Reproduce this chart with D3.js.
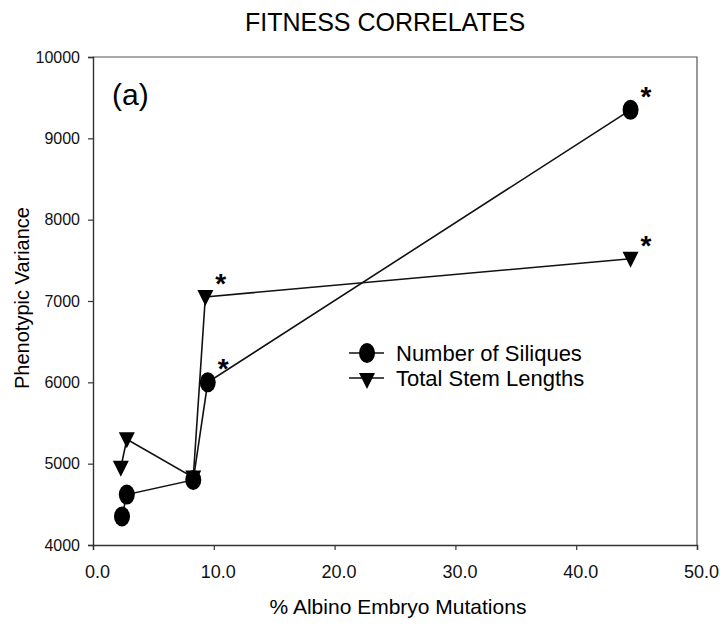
<!DOCTYPE html>
<html>
<head>
<meta charset="utf-8">
<script src="https://cdn.jsdelivr.net/npm/d3@7"></script>
<style>
  body { margin: 0; background: #fff; }
  svg { font-family: "Liberation Sans", Arial, sans-serif; }
</style>
</head>
<body>
<svg width="720" height="632"></svg>
<script>
// values
const xTicks = [0, 10, 20, 30, 40, 50];
const yTicks = [4000, 5000, 6000, 7000, 8000, 9000, 10000];

const siliquesX = [2.4, 2.8, 8.3, 9.5, 44.5];
const siliquesY = [4350, 4620, 4800, 6000, 9350];
const siliquesStar = [false, false, false, true, true];

const stemX = [2.3, 2.8, 8.3, 9.3, 44.5];
const stemY = [4950, 5300, 4830, 7050, 7520];
const stemStar = [false, false, false, true, true];

const seriesNames = ["Number of Siliques", "Total Stem Lengths"];

const svg = d3.select("svg");

const x = d3.scaleLinear().domain([0, 50]).range([93, 697]);
const y = d3.scaleLinear().domain([4000, 10000]).range([545, 57]);

// frame (top + right)
svg.append("path")
  .attr("d", `M${x(0)},${y(10000)}H${x(50)}V${y(4000)}`)
  .attr("fill", "none")
  .attr("stroke", "#555")
  .attr("stroke-width", 1.2);

const xAxis = svg.append("g")
  .attr("transform", `translate(0,${y(4000)})`)
  .call(d3.axisBottom(x).tickValues(xTicks).tickFormat(d3.format(".1f"))
    .tickSize(5).tickPadding(15));

const yAxis = svg.append("g")
  .attr("transform", `translate(${x(0)},0)`)
  .call(d3.axisLeft(y).tickValues(yTicks).tickFormat(d => d)
    .tickSize(5).tickPadding(8));

[xAxis, yAxis].forEach(g => {
  g.select(".domain").attr("stroke", "#333").attr("stroke-width", 1.4);
  g.selectAll(".tick line").attr("stroke", "#333").attr("stroke-width", 1.2);
  g.selectAll(".tick text").attr("fill", "#111")
    .attr("font-family", "Liberation Sans, Arial, sans-serif");
});
yAxis.selectAll(".tick text").attr("font-size", 16);
xAxis.selectAll(".tick text").attr("font-size", 18).attr("dx", 4);

const line = d3.line().x(d => x(d[0])).y(d => y(d[1]));

const sil = siliquesX.map((v, i) => [v, siliquesY[i], siliquesStar[i]]);
const stem = stemX.map((v, i) => [v, stemY[i], stemStar[i]]);

svg.append("path").datum(sil).attr("d", line)
  .attr("fill", "none").attr("stroke", "#111").attr("stroke-width", 1.6);
svg.append("path").datum(stem).attr("d", line)
  .attr("fill", "none").attr("stroke", "#111").attr("stroke-width", 1.6);

const tri = "M-8,-7L8,-7L0,9Z";

svg.append("g").selectAll("path").data(stem).join("path")
  .attr("transform", d => `translate(${x(d[0])},${y(d[1])})`)
  .attr("d", tri).attr("fill", "#000");

svg.append("g").selectAll("ellipse").data(sil).join("ellipse")
  .attr("cx", d => x(d[0])).attr("cy", d => y(d[1]))
  .attr("rx", 8).attr("ry", 10).attr("fill", "#000");

// significance stars
svg.append("g").selectAll("text").data(sil.concat(stem).filter(d => d[2])).join("text")
  .attr("x", d => x(d[0]) + 10).attr("y", d => y(d[1]) - 4)
  .attr("font-size", 28).attr("font-weight", "bold")
  .text("*");

// panel label
svg.append("text").attr("x", 112).attr("y", 105)
  .attr("font-size", 30).text("(a)");

// legend
const legend = svg.append("g").attr("transform", "translate(367,353)");
legend.append("line").attr("x1", -18).attr("x2", 17).attr("stroke", "#111").attr("stroke-width", 1.6);
legend.append("ellipse").attr("rx", 8).attr("ry", 10).attr("fill", "#000");
legend.append("text").attr("x", 29).attr("y", 8).attr("font-size", 22).text(seriesNames[0]);
legend.append("line").attr("x1", -18).attr("x2", 17).attr("y1", 25).attr("y2", 25)
  .attr("stroke", "#111").attr("stroke-width", 1.6);
legend.append("path").attr("transform", "translate(0,27)").attr("d", tri).attr("fill", "#000");
legend.append("text").attr("x", 29).attr("y", 33).attr("font-size", 22).text(seriesNames[1]);

// titles
svg.append("text").attr("x", 385).attr("y", 31).attr("text-anchor", "middle")
  .attr("font-size", 25).text("FITNESS CORRELATES");

svg.append("text").attr("x", 398).attr("y", 614).attr("text-anchor", "middle")
  .attr("font-size", 21).text("% Albino Embryo Mutations");

svg.append("text").attr("transform", "translate(29,298) rotate(-90)")
  .attr("text-anchor", "middle").attr("font-size", 20).text("Phenotypic Variance");
</script>
</body>
</html>
